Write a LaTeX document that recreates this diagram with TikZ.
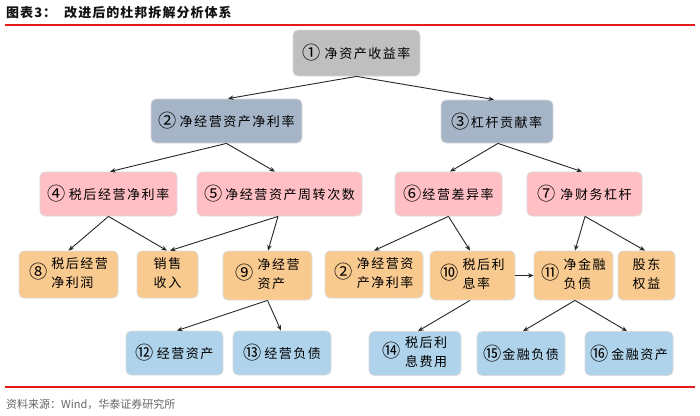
\documentclass[tikz,border=0pt]{standalone}
\usepackage{fontspec}
\setmainfont{Noto Sans CJK SC}
\newfontfamily\boxfont{Noto Sans CJK SC}[LetterSpace=12]
\newfontfamily\cnfont{Noto Sans CJK SC}
\newfontfamily\titlefont{Noto Sans CJK SC}[LetterSpace=8]
\newfontfamily\footfont{Noto Sans CJK SC}
\usetikzlibrary{arrows.meta,calc}
\definecolor{cgray}{HTML}{BFBFBF}
\definecolor{cbgray}{HTML}{A5B5C7}
\definecolor{cpink}{HTML}{FFBFC4}
\definecolor{corange}{HTML}{F9CA8F}
\definecolor{cblue}{HTML}{AFD3EB}
\definecolor{cred}{HTML}{E31B1B}
\newcommand\cn[1]{\raisebox{-1.3pt}{\scalebox{1.4}{\cnfont #1}}}
\newcommand\twoline[3]{\cn{#1}\hspace{4pt}\begin{tabular}{@{}l@{}}#2\\#3\end{tabular}}
\newcommand\twoc[2]{\begin{tabular}{@{}c@{}}#1\\#2\end{tabular}}
\tikzset{
  box/.style={draw=black!14, line width=0.8pt, rounded corners=5pt, inner sep=0pt,
    align=center, text=black, font=\boxfont\fontsize{13}{19}\selectfont},
  lvA/.style={box, fill=cgray},
  lvB/.style={box, fill=cbgray},
  lvC/.style={box, fill=cpink},
  lvD/.style={box, fill=corange},
  lvE/.style={box, fill=cblue},
  arr/.style={-{Stealth[length=5.5pt,width=4.5pt]}, line width=0.9pt, draw=black!85},
  redline/.style={draw=cred, line width=1.4pt}
}
\begin{document}
\begin{tikzpicture}[x=1pt,y=-1pt]
\fill[white] (0,0) rectangle (700,415);
\useasboundingbox (0,0) rectangle (700,415);

% title and rules
\node[anchor=west, inner sep=0pt, text=black!92, font=\titlefont\bfseries\fontsize{13}{15}\selectfont] (title) at (6,13) {图表3：\hspace{8pt}改进后的杜邦拆解分析体系};
\coordinate (rtl) at (5,25); \coordinate (rtr) at (695,25);
\draw[redline] (rtl) -- (rtr);
\coordinate (rbl) at (5,387); \coordinate (rbr) at (695,387);
\draw[redline] (rbl) -- (rbr);
\node[anchor=west, inner sep=0pt, text=black!60, font=\footfont\fontsize{11}{13}\selectfont] (foot) at (6,404) {资料来源：Wind，华泰证券研究所};

% level 1
\node[lvA, minimum width=127pt, minimum height=46pt] (n1) at (356.5,53) {\cn{①}\hspace{4pt}净资产收益率};
% level 2
\node[lvB, minimum width=151pt, minimum height=44pt] (n2) at (226.5,121) {\cn{②}\hspace{3pt}净经营资产净利率};
\node[lvB, minimum width=112pt, minimum height=43pt] (n3) at (497,121.5) {\cn{③}\hspace{1pt}杠杆贡献率};
% level 3
\node[lvC, minimum width=137pt, minimum height=44pt] (n4) at (108.5,194) {\cn{④}\hspace{3pt}税后经营净利率};
\node[lvC, minimum width=165pt, minimum height=44pt] (n5) at (279.5,194) {\cn{⑤}\hspace{3pt}净经营资产周转次数};
\node[lvC, minimum width=107pt, minimum height=44pt] (n6) at (448.5,194) {\cn{⑥}\hspace{1pt}经营差异率};
\node[lvC, minimum width=115pt, minimum height=44pt] (n7) at (584.5,194) {\cn{⑦}\hspace{5pt}净财务杠杆};
% level 4
\node[lvD, minimum width=99pt, minimum height=47pt] (n8) at (68.5,274.5) {\twoline{⑧}{税后经营}{净利润}};
\node[lvD, minimum width=61pt, minimum height=47pt] (sales) at (167.5,274.5) {\twoc{销售}{收入}};
\node[lvD, minimum width=89pt, minimum height=49pt] (n9) at (267.5,275.5) {\twoline{⑨}{净经营}{资产}};
\node[lvD, minimum width=98pt, minimum height=47pt] (n2b) at (374,274.5) {\twoline{②}{净经营资}{产净利率}};
\node[lvD, minimum width=85pt, minimum height=49pt] (n10) at (472.5,275.5) {\twoline{⑩}{税后利}{息率}};
\node[lvD, minimum width=79pt, minimum height=49pt] (n11) at (573.5,275.5) {\twoline{⑪}{净金融}{负债}};
\node[lvD, minimum width=57pt, minimum height=49pt] (eq) at (646.5,275.5) {\twoc{股东}{权益}};
% level 5
\node[lvE, minimum width=97pt, minimum height=44pt] (n12) at (174.5,353) {\cn{⑫}\hspace{3pt}经营资产};
\node[lvE, minimum width=98pt, minimum height=44pt] (n13) at (282,353) {\cn{⑬}\hspace{3pt}经营负债};
\node[lvE, minimum width=92pt, minimum height=44pt] (n14) at (415,353.5) {\twoline{⑭}{税后利}{息费用}};
\node[lvE, minimum width=88pt, minimum height=44pt] (n15) at (521,353.5) {\cn{⑮}\hspace{1pt}金融负债};
\node[lvE, minimum width=88pt, minimum height=44pt] (n16) at (629,353.5) {\cn{⑯}\hspace{3pt}金融资产};

% connectors
\draw[arr] (n1.south) -- ($(n2.north)+(1.5,0)$);
\draw[arr] (n1.south) -- ($(n3.north)+(-3,0)$);
\draw[arr] (n2.south) -- ($(n4.north)+(1.5,0)$);
\draw[arr] (n2.south) -- ($(n5.north)+(-4.5,0)$);
\draw[arr] ($(n3.south)+(1,0)$) -- ($(n6.north)+(1.5,0)$);
\draw[arr] ($(n3.south)+(1,0)$) -- ($(n7.north)+(-2.5,0)$);
\draw[arr] (n4.south) -- (n8.north);
\draw[arr] (n4.south) -- ($(sales.north)+(-0.5,0)$);
\draw[arr] ($(n5.south)+(-1.5,0)$) -- ($(sales.north)+(2.5,0)$);
\draw[arr] ($(n5.south)+(-1.5,0)$) -- ($(n9.north)+(0.5,0)$);
\draw[arr] (n6.south) -- (n2b.north);
\draw[arr] (n6.south) -- ($(n10.north)+(-2.5,0)$);
\draw[arr] ($(n7.south)+(0.5,0)$) -- ($(n11.north)+(1.5,0)$);
\draw[arr] ($(n7.south)+(0.5,0)$) -- ($(eq.north)+(-1.5,0)$);
\draw[arr] (n10.east) -- (n11.west);
\draw[arr] (n9.south) -- ($(n12.north)+(2.5,0)$);
\draw[arr] (n9.south) -- ($(n13.north)+(-1,0)$);
\draw[arr] ($(n10.south)+(-2.5,0)$) -- ($(n14.north)+(3,0)$);
\draw[arr] ($(n11.south)+(1.5,0)$) -- ($(n15.north)+(2,0)$);
\draw[arr] ($(n11.south)+(1.5,0)$) -- ($(n16.north)+(-2,0)$);
\end{tikzpicture}
\end{document}
